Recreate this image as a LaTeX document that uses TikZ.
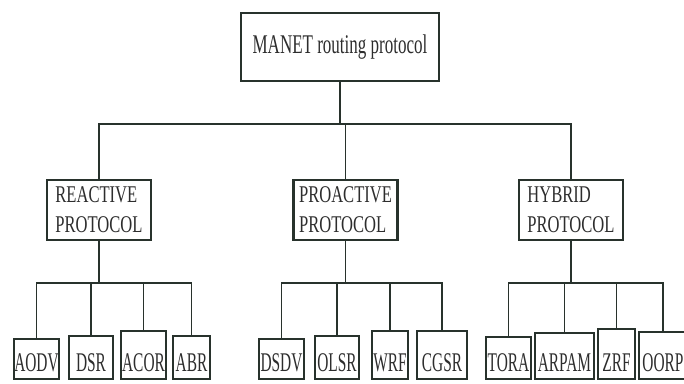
\documentclass[tikz,border=0pt]{standalone}
\usepackage{fontspec}
\setmainfont{Liberation Serif}
\newfontfamily\rootfont{Liberation Serif}[FakeStretch=0.63]
\newfontfamily\headfont{Liberation Serif}[FakeStretch=0.69]
\newfontfamily\leaffont{Liberation Serif}[FakeStretch=0.57]
\usepackage{tikz}
\usetikzlibrary{positioning}
\definecolor{boxline}{RGB}{40,50,44}
\definecolor{boxtext}{RGB}{45,45,45}

\begin{document}
\begin{tikzpicture}[
      x=1pt, y=-1pt,
      rootbox/.style={draw=boxline, line width=1.6pt, text=boxtext, minimum width=198pt, minimum height=68pt, inner sep=0pt, font=\rootfont\fontsize{27}{30}\selectfont},
      classbox/.style={draw=boxline, line width=2.8pt, text=boxtext, minimum width=104pt, minimum height=60pt, inner sep=0pt, align=left, font=\headfont\fontsize{24}{30}\selectfont},
      leafbox/.style={draw=boxline, line width=2pt, text=boxtext, inner sep=0pt, anchor=south, text depth=8pt, font=\leaffont\fontsize{27}{30}\selectfont},
      link/.style={draw=boxline, line width=1.7pt},
    ]
    \useasboundingbox (0,0) rectangle (684,383);
    \clip (0,0) rectangle (684,383);

    % Root
    \node[rootbox] (root) at (340,47) {MANET routing protocol};

    % Protocol classes
    \node[classbox] (reactive)  at (99,210)    {REACTIVE\\PROTOCOL};
    \node[classbox] (proactive) at (345.5,210) {PROACTIVE\\PROTOCOL};
    \node[classbox] (hybrid)    at (571,210)   {HYBRID\\PROTOCOL};

    % Reactive protocols
    \node[leafbox, minimum width=45pt, text height=32pt] (aodv) at (36.5,380)  {AODV};
    \node[leafbox, minimum width=44pt, text height=35pt] (dsr)  at (91,380)    {DSR};
    \node[leafbox, minimum width=45pt, text height=40pt] (acor) at (143.5,380) {ACOR};
    \node[leafbox, minimum width=37pt, text height=35pt] (abr)  at (191.5,380) {ABR};

    % Proactive protocols
    \node[leafbox, minimum width=45pt, text height=32pt] (dsdv) at (281.5,380) {DSDV};
    \node[leafbox, minimum width=44pt, text height=35pt] (olsr) at (337,380)   {OLSR};
    \node[leafbox, minimum width=36pt, text height=40pt] (wrf)  at (390,380)   {WRF};
    \node[leafbox, minimum width=50pt, text height=40pt] (cgsr) at (442,380)   {CGSR};

    % Hybrid protocols
    \node[leafbox, minimum width=45pt, text height=34pt] (tora)  at (508.5,380) {TORA};
    \node[leafbox, minimum width=59pt, text height=38pt] (arpam) at (564.5,380) {ARPAM};
    \node[leafbox, minimum width=37pt, text height=42pt] (zrf)   at (616.5,380) {ZRF};
    \node[leafbox, minimum width=48pt, text height=39pt] (oorp)  at (663,380)   {OORP};

    % Connections: root -> classes
    \coordinate (rootbus) at (0,124);
    \foreach \c in {reactive,proactive,hybrid} {
      \draw[link] (root.south) -- (root.south |- rootbus) -| (\c.north);
    }
    % Connections: classes -> protocols
    \coordinate (leafbus) at (0,283);
    \foreach \p/\kids in {reactive/{aodv,dsr,acor,abr}, proactive/{dsdv,olsr,wrf,cgsr}, hybrid/{tora,arpam,zrf,oorp}} {
      \foreach \k in \kids {
        \draw[link] (\p.south) -- (\p.south |- leafbus) -| (\k.north);
      }
    }
  \end{tikzpicture}
\end{document}
